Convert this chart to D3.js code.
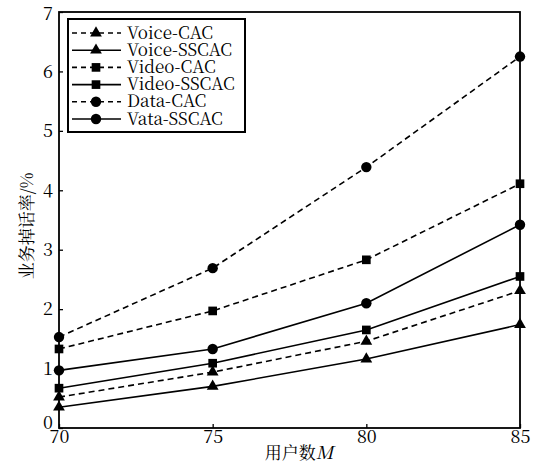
<!DOCTYPE html>
<html>
<head>
<meta charset="utf-8">
<script src="https://cdn.jsdelivr.net/npm/d3@7"></script>
<style>
  body { margin: 0; background: #fff; }
</style>
</head>
<body>
<div id="container"></div>
<script>
// data
const users = [70, 75, 80, 85]
const seriesNames = ["Voice-CAC", "Voice-SSCAC", "Video-CAC", "Video-SSCAC", "Data-CAC", "Vata-SSCAC"]
const voiceCAC = [0.52, 0.94, 1.46, 2.31]
const voiceSSCAC = [0.35, 0.70, 1.16, 1.74]
const videoCAC = [1.33, 1.97, 2.83, 4.11]
const videoSSCAC = [0.67, 1.09, 1.65, 2.55]
const dataCAC = [1.53, 2.69, 4.39, 6.25]
const dataSSCAC = [0.97, 1.33, 2.10, 3.42]
const xTicks = [70, 75, 80, 85]
const yTicks = [0, 1, 2, 3, 4, 5, 6, 7]

const serif = "Noto Serif CJK SC, serif"

main()

function main() {
    const width = 537
    const height = 465
    const marginTop = 12
    const marginRight = 17
    const marginBottom = 37
    const marginLeft = 59

    const x = d3.scaleLinear()
        .domain([70, 85])
        .range([marginLeft, width - marginRight])

    const y = d3.scaleLinear()
        .domain([0, 7])
        .range([height - marginBottom, marginTop])

    const svg = d3.select("#container").append("svg")
        .attr("width", width)
        .attr("height", height)
        .style("font-family", serif)

    // axes, ticks point inward
    const xAxis = svg.append("g")
        .attr("transform", `translate(0,${height - marginBottom})`)
        .call(d3.axisBottom(x).tickValues(xTicks).tickFormat(d3.format("d"))
            .tickSizeInner(-4).tickSizeOuter(0).tickPadding(2))
    xAxis.attr("font-family", null).attr("font-size", null)
    xAxis.selectAll("text").style("font-family", serif).style("font-size", "18px").attr("fill", "#000")

    const yAxis = svg.append("g")
        .attr("transform", `translate(${marginLeft},0)`)
        .call(d3.axisLeft(y).tickValues(yTicks).tickFormat(d3.format("d"))
            .tickSizeInner(-4).tickSizeOuter(0).tickPadding(6))
    yAxis.attr("font-family", null).attr("font-size", null)
    yAxis.selectAll("text").style("font-family", serif).style("font-size", "18px").attr("fill", "#000")
    // the 0 sits a bit above the corner, 7 a bit below the top edge
    yAxis.selectAll(".tick text").filter(d => d === 0).attr("dy", "0.05em")
    yAxis.selectAll(".tick text").filter(d => d === 7).attr("dy", "0.4em")

    svg.selectAll(".domain").remove()
    svg.selectAll(".tick line").attr("stroke", "#000").attr("stroke-width", 1.3)

    // frame
    svg.append("rect")
        .attr("x", marginLeft)
        .attr("y", marginTop)
        .attr("width", width - marginRight - marginLeft)
        .attr("height", height - marginBottom - marginTop)
        .attr("fill", "none")
        .attr("stroke", "#000")
        .attr("stroke-width", 1.8)

    const series = [
        {name: seriesNames[0], values: voiceCAC, dashed: true, symbol: d3.symbolTriangle},
        {name: seriesNames[1], values: voiceSSCAC, dashed: false, symbol: d3.symbolTriangle},
        {name: seriesNames[2], values: videoCAC, dashed: true, symbol: d3.symbolSquare},
        {name: seriesNames[3], values: videoSSCAC, dashed: false, symbol: d3.symbolSquare},
        {name: seriesNames[4], values: dataCAC, dashed: true, symbol: d3.symbolCircle},
        {name: seriesNames[5], values: dataSSCAC, dashed: false, symbol: d3.symbolCircle}
    ]

    const symbolSize = s => s === d3.symbolCircle ? 85 : (s === d3.symbolSquare ? 75 : 60)

    const line = d3.line()
        .x((d, i) => x(users[i]))
        .y(d => y(d))

    series.forEach(s => {
        svg.append("path")
            .datum(s.values)
            .attr("d", line)
            .attr("fill", "none")
            .attr("stroke", "#000")
            .attr("stroke-width", 1.6)
            .attr("stroke-dasharray", s.dashed ? "6,4" : null)

        svg.selectAll(null)
            .data(s.values)
            .enter()
            .append("path")
            .attr("transform", (d, i) => `translate(${x(users[i])},${y(d)})`)
            .attr("d", d3.symbol().type(s.symbol).size(symbolSize(s.symbol)))
            .attr("fill", "#000")
    })

    // legend
    const legend = svg.append("g")
    legend.append("rect")
        .attr("x", 68)
        .attr("y", 19)
        .attr("width", 177)
        .attr("height", 113)
        .attr("fill", "#fff")
        .attr("stroke", "#000")
        .attr("stroke-width", 2)

    const labels = []
    series.forEach((s, i) => {
        const ly = 33 + i * 17.2
        legend.append("line")
            .attr("x1", 72)
            .attr("x2", 121)
            .attr("y1", ly)
            .attr("y2", ly)
            .attr("stroke", "#000")
            .attr("stroke-width", 1.6)
            .attr("stroke-dasharray", s.dashed ? "5,4" : null)
        legend.append("path")
            .attr("transform", `translate(96,${ly})`)
            .attr("d", d3.symbol().type(s.symbol).size(symbolSize(s.symbol)))
            .attr("fill", "#000")
        const t = legend.append("text")
            .attr("x", 127)
            .attr("y", ly)
            .attr("dy", "0.33em")
            .style("font-size", "17px")
            .text(s.name)
        labels.push(t)
    })
    // squeeze the (wider) serif so the longest label fits the box like the reference
    const longest = d3.max(labels, t => t.node().getComputedTextLength())
    const k = Math.min(1, 112 / longest)
    labels.forEach(t => {
        const w = t.node().getComputedTextLength()
        t.attr("textLength", w * k).attr("lengthAdjust", "spacingAndGlyphs")
    })

    // axis titles
    const xt = svg.append("text")
        .attr("x", 299)
        .attr("y", 459)
        .attr("text-anchor", "middle")
        .style("font-size", "18px")
    xt.append("tspan").style("font-size", "17px").text("用户数")
    xt.append("tspan").style("font-style", "italic").text("M")

    svg.append("text")
        .attr("transform", "translate(27,226) rotate(-90)")
        .attr("text-anchor", "middle")
        .attr("dy", "0.35em")
        .style("font-size", "17px")
        .text("业务掉话率/%")
}
</script>
</body>
</html>
